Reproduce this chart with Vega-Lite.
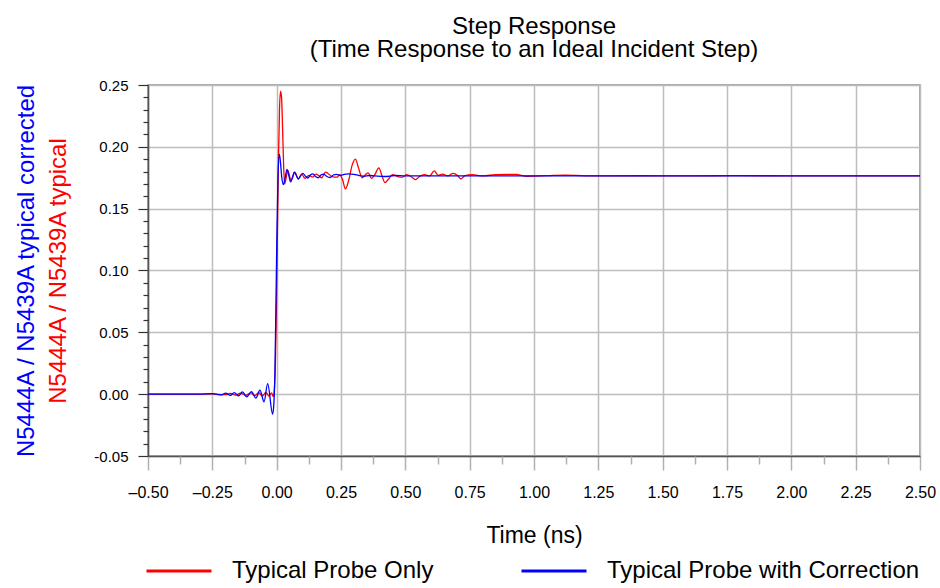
{
  "$schema": "https://vega.github.io/schema/vega-lite/v6.json",
  "width": 772,
  "height": 371,
  "autosize": {"type": "none"},
  "padding": {"left": 148, "top": 85, "right": 20, "bottom": 132},
  "background": "white",
  "title": {
    "text": ["Step Response", "(Time Response to an Ideal Incident Step)"],
    "fontSize": 24, "font": "Liberation Sans", "fontWeight": "normal", "color": "black",
    "lineHeight": 23.5, "anchor": "middle", "frame": "group", "baseline": "alphabetic", "offset": 22, "dy": 25
  },
  "config": {
    "font": "Liberation Sans",
    "view": {"stroke": "#8c8c8c", "strokeWidth": 1.5},
    "axis": {
      "gridColor": "#bdbdbd", "gridWidth": 1.5, "domainColor": "#555555", "domainWidth": 1.5,
      "labelColor": "black", "titleColor": "black", "titleFontWeight": "normal"
    },
    "legend": {"padding": 0}
  },
  "datasets": {
    "series": [
      {"t": -0.5, "v": 0, "s": "Typical Probe Only"},
      {"t": -0.35, "v": 0, "s": "Typical Probe Only"},
      {"t": -0.25, "v": 0.0002, "s": "Typical Probe Only"},
      {"t": -0.2, "v": -0.0004, "s": "Typical Probe Only"},
      {"t": -0.18, "v": 0.0006, "s": "Typical Probe Only"},
      {"t": -0.16, "v": -0.0007, "s": "Typical Probe Only"},
      {"t": -0.14, "v": 0.0008, "s": "Typical Probe Only"},
      {"t": -0.12, "v": -0.0009, "s": "Typical Probe Only"},
      {"t": -0.1, "v": 0.001, "s": "Typical Probe Only"},
      {"t": -0.085, "v": -0.0012, "s": "Typical Probe Only"},
      {"t": -0.07, "v": 0.0013, "s": "Typical Probe Only"},
      {"t": -0.055, "v": -0.0014, "s": "Typical Probe Only"},
      {"t": -0.042, "v": 0.0015, "s": "Typical Probe Only"},
      {"t": -0.03, "v": -0.0015, "s": "Typical Probe Only"},
      {"t": -0.02, "v": 0.001, "s": "Typical Probe Only"},
      {"t": -0.013, "v": -0.002, "s": "Typical Probe Only"},
      {"t": -0.009, "v": 0.004, "s": "Typical Probe Only"},
      {"t": -0.005, "v": 0.025, "s": "Typical Probe Only"},
      {"t": -0.001, "v": 0.07, "s": "Typical Probe Only"},
      {"t": 0.003, "v": 0.13, "s": "Typical Probe Only"},
      {"t": 0.007, "v": 0.19, "s": "Typical Probe Only"},
      {"t": 0.011, "v": 0.23, "s": "Typical Probe Only"},
      {"t": 0.015, "v": 0.245, "s": "Typical Probe Only"},
      {"t": 0.019, "v": 0.24, "s": "Typical Probe Only"},
      {"t": 0.023, "v": 0.215, "s": "Typical Probe Only"},
      {"t": 0.027, "v": 0.185, "s": "Typical Probe Only"},
      {"t": 0.031, "v": 0.17, "s": "Typical Probe Only"},
      {"t": 0.036, "v": 0.174, "s": "Typical Probe Only"},
      {"t": 0.043, "v": 0.181, "s": "Typical Probe Only"},
      {"t": 0.056, "v": 0.173, "s": "Typical Probe Only"},
      {"t": 0.071, "v": 0.1795, "s": "Typical Probe Only"},
      {"t": 0.084, "v": 0.174, "s": "Typical Probe Only"},
      {"t": 0.097, "v": 0.178, "s": "Typical Probe Only"},
      {"t": 0.11, "v": 0.1745, "s": "Typical Probe Only"},
      {"t": 0.125, "v": 0.177, "s": "Typical Probe Only"},
      {"t": 0.14, "v": 0.1755, "s": "Typical Probe Only"},
      {"t": 0.152, "v": 0.178, "s": "Typical Probe Only"},
      {"t": 0.165, "v": 0.1765, "s": "Typical Probe Only"},
      {"t": 0.175, "v": 0.175, "s": "Typical Probe Only"},
      {"t": 0.19, "v": 0.1795, "s": "Typical Probe Only"},
      {"t": 0.215, "v": 0.176, "s": "Typical Probe Only"},
      {"t": 0.235, "v": 0.1755, "s": "Typical Probe Only"},
      {"t": 0.245, "v": 0.1775, "s": "Typical Probe Only"},
      {"t": 0.256, "v": 0.1735, "s": "Typical Probe Only"},
      {"t": 0.267, "v": 0.166, "s": "Typical Probe Only"},
      {"t": 0.28, "v": 0.173, "s": "Typical Probe Only"},
      {"t": 0.293, "v": 0.185, "s": "Typical Probe Only"},
      {"t": 0.306, "v": 0.19, "s": "Typical Probe Only"},
      {"t": 0.318, "v": 0.183, "s": "Typical Probe Only"},
      {"t": 0.332, "v": 0.175, "s": "Typical Probe Only"},
      {"t": 0.345, "v": 0.1775, "s": "Typical Probe Only"},
      {"t": 0.356, "v": 0.179, "s": "Typical Probe Only"},
      {"t": 0.368, "v": 0.1745, "s": "Typical Probe Only"},
      {"t": 0.38, "v": 0.177, "s": "Typical Probe Only"},
      {"t": 0.397, "v": 0.183, "s": "Typical Probe Only"},
      {"t": 0.41, "v": 0.176, "s": "Typical Probe Only"},
      {"t": 0.421, "v": 0.171, "s": "Typical Probe Only"},
      {"t": 0.435, "v": 0.174, "s": "Typical Probe Only"},
      {"t": 0.45, "v": 0.1775, "s": "Typical Probe Only"},
      {"t": 0.47, "v": 0.176, "s": "Typical Probe Only"},
      {"t": 0.49, "v": 0.1755, "s": "Typical Probe Only"},
      {"t": 0.505, "v": 0.1775, "s": "Typical Probe Only"},
      {"t": 0.525, "v": 0.1755, "s": "Typical Probe Only"},
      {"t": 0.54, "v": 0.1735, "s": "Typical Probe Only"},
      {"t": 0.555, "v": 0.176, "s": "Typical Probe Only"},
      {"t": 0.575, "v": 0.1775, "s": "Typical Probe Only"},
      {"t": 0.595, "v": 0.1765, "s": "Typical Probe Only"},
      {"t": 0.612, "v": 0.1805, "s": "Typical Probe Only"},
      {"t": 0.628, "v": 0.177, "s": "Typical Probe Only"},
      {"t": 0.645, "v": 0.178, "s": "Typical Probe Only"},
      {"t": 0.665, "v": 0.1765, "s": "Typical Probe Only"},
      {"t": 0.685, "v": 0.1785, "s": "Typical Probe Only"},
      {"t": 0.703, "v": 0.1768, "s": "Typical Probe Only"},
      {"t": 0.716, "v": 0.174, "s": "Typical Probe Only"},
      {"t": 0.73, "v": 0.1765, "s": "Typical Probe Only"},
      {"t": 0.76, "v": 0.1775, "s": "Typical Probe Only"},
      {"t": 0.8, "v": 0.1765, "s": "Typical Probe Only"},
      {"t": 0.85, "v": 0.1775, "s": "Typical Probe Only"},
      {"t": 0.9, "v": 0.1778, "s": "Typical Probe Only"},
      {"t": 0.93, "v": 0.1778, "s": "Typical Probe Only"},
      {"t": 0.97, "v": 0.1762, "s": "Typical Probe Only"},
      {"t": 1.05, "v": 0.1767, "s": "Typical Probe Only"},
      {"t": 1.12, "v": 0.1772, "s": "Typical Probe Only"},
      {"t": 1.2, "v": 0.1765, "s": "Typical Probe Only"},
      {"t": 1.4, "v": 0.1766, "s": "Typical Probe Only"},
      {"t": 1.6, "v": 0.1765, "s": "Typical Probe Only"},
      {"t": 1.8, "v": 0.1767, "s": "Typical Probe Only"},
      {"t": 2.0, "v": 0.1765, "s": "Typical Probe Only"},
      {"t": 2.5, "v": 0.1765, "s": "Typical Probe Only"},

      {"t": -0.5, "v": 0, "s": "Typical Probe with Correction"},
      {"t": -0.3, "v": 0, "s": "Typical Probe with Correction"},
      {"t": -0.25, "v": 0.0004, "s": "Typical Probe with Correction"},
      {"t": -0.215, "v": -0.0006, "s": "Typical Probe with Correction"},
      {"t": -0.198, "v": 0.0008, "s": "Typical Probe with Correction"},
      {"t": -0.18, "v": -0.001, "s": "Typical Probe with Correction"},
      {"t": -0.165, "v": 0.0013, "s": "Typical Probe with Correction"},
      {"t": -0.148, "v": -0.0014, "s": "Typical Probe with Correction"},
      {"t": -0.133, "v": 0.0019, "s": "Typical Probe with Correction"},
      {"t": -0.116, "v": -0.0022, "s": "Typical Probe with Correction"},
      {"t": -0.098, "v": 0.0021, "s": "Typical Probe with Correction"},
      {"t": -0.081, "v": -0.0032, "s": "Typical Probe with Correction"},
      {"t": -0.065, "v": 0.0032, "s": "Typical Probe with Correction"},
      {"t": -0.049, "v": -0.0062, "s": "Typical Probe with Correction"},
      {"t": -0.035, "v": 0.0086, "s": "Typical Probe with Correction"},
      {"t": -0.0156, "v": -0.0162, "s": "Typical Probe with Correction"},
      {"t": -0.011, "v": -0.008, "s": "Typical Probe with Correction"},
      {"t": -0.007, "v": 0.015, "s": "Typical Probe with Correction"},
      {"t": -0.003, "v": 0.07, "s": "Typical Probe with Correction"},
      {"t": 0.001, "v": 0.13, "s": "Typical Probe with Correction"},
      {"t": 0.005, "v": 0.175, "s": "Typical Probe with Correction"},
      {"t": 0.0105, "v": 0.194, "s": "Typical Probe with Correction"},
      {"t": 0.015, "v": 0.187, "s": "Typical Probe with Correction"},
      {"t": 0.02, "v": 0.175, "s": "Typical Probe with Correction"},
      {"t": 0.026, "v": 0.1695, "s": "Typical Probe with Correction"},
      {"t": 0.033, "v": 0.175, "s": "Typical Probe with Correction"},
      {"t": 0.04, "v": 0.1817, "s": "Typical Probe with Correction"},
      {"t": 0.047, "v": 0.177, "s": "Typical Probe with Correction"},
      {"t": 0.054, "v": 0.1716, "s": "Typical Probe with Correction"},
      {"t": 0.061, "v": 0.175, "s": "Typical Probe with Correction"},
      {"t": 0.068, "v": 0.1795, "s": "Typical Probe with Correction"},
      {"t": 0.076, "v": 0.177, "s": "Typical Probe with Correction"},
      {"t": 0.084, "v": 0.174, "s": "Typical Probe with Correction"},
      {"t": 0.093, "v": 0.1765, "s": "Typical Probe with Correction"},
      {"t": 0.102, "v": 0.1785, "s": "Typical Probe with Correction"},
      {"t": 0.112, "v": 0.1762, "s": "Typical Probe with Correction"},
      {"t": 0.121, "v": 0.1748, "s": "Typical Probe with Correction"},
      {"t": 0.131, "v": 0.1772, "s": "Typical Probe with Correction"},
      {"t": 0.141, "v": 0.1782, "s": "Typical Probe with Correction"},
      {"t": 0.151, "v": 0.176, "s": "Typical Probe with Correction"},
      {"t": 0.161, "v": 0.175, "s": "Typical Probe with Correction"},
      {"t": 0.172, "v": 0.1772, "s": "Typical Probe with Correction"},
      {"t": 0.183, "v": 0.178, "s": "Typical Probe with Correction"},
      {"t": 0.195, "v": 0.176, "s": "Typical Probe with Correction"},
      {"t": 0.207, "v": 0.1752, "s": "Typical Probe with Correction"},
      {"t": 0.22, "v": 0.1772, "s": "Typical Probe with Correction"},
      {"t": 0.233, "v": 0.1778, "s": "Typical Probe with Correction"},
      {"t": 0.247, "v": 0.1768, "s": "Typical Probe with Correction"},
      {"t": 0.262, "v": 0.1778, "s": "Typical Probe with Correction"},
      {"t": 0.28, "v": 0.1782, "s": "Typical Probe with Correction"},
      {"t": 0.3, "v": 0.1778, "s": "Typical Probe with Correction"},
      {"t": 0.32, "v": 0.1768, "s": "Typical Probe with Correction"},
      {"t": 0.34, "v": 0.1762, "s": "Typical Probe with Correction"},
      {"t": 0.36, "v": 0.1768, "s": "Typical Probe with Correction"},
      {"t": 0.38, "v": 0.1765, "s": "Typical Probe with Correction"},
      {"t": 0.42, "v": 0.176, "s": "Typical Probe with Correction"},
      {"t": 0.46, "v": 0.1768, "s": "Typical Probe with Correction"},
      {"t": 0.5, "v": 0.1765, "s": "Typical Probe with Correction"},
      {"t": 0.6, "v": 0.1765, "s": "Typical Probe with Correction"},
      {"t": 0.8, "v": 0.1765, "s": "Typical Probe with Correction"},
      {"t": 1.0, "v": 0.1765, "s": "Typical Probe with Correction"},
      {"t": 1.5, "v": 0.1765, "s": "Typical Probe with Correction"},
      {"t": 2.0, "v": 0.1765, "s": "Typical Probe with Correction"},
      {"t": 2.5, "v": 0.1765, "s": "Typical Probe with Correction"}
    ]
  },
  "layer": [
    {
      "data": {"name": "series"},
      "mark": {"type": "line", "strokeWidth": 1.3, "interpolate": "monotone", "clip": true},
      "encoding": {
        "x": {
          "field": "t", "type": "quantitative",
          "scale": {"domain": [-0.5, 2.5], "nice": false, "zero": false},
          "axis": {
            "orient": "bottom",
            "values": [-0.5, -0.25, 0, 0.25, 0.5, 0.75, 1, 1.25, 1.5, 1.75, 2, 2.25, 2.5],
            "labelExpr": "(datum.value < 0 ? '–' : '') + format(abs(datum.value), '.2f')",
            "labelFont": "Liberation Sans", "labelFontSize": 16,
            "labelBaseline": "alphabetic", "labelPadding": 27, "labelFlush": false,
            "tickSize": 14, "tickColor": "#b0b0b0", "tickWidth": 1.5,
            "grid": true,
            "title": "Time (ns)", "titleFont": "Liberation Sans", "titleFontSize": 23,
            "titleBaseline": "alphabetic", "titleY": 86
          }
        },
        "y": {
          "field": "v", "type": "quantitative",
          "scale": {"domain": [-0.05, 0.25], "nice": false, "zero": false},
          "axis": {
            "orient": "left",
            "values": [-0.05, 0, 0.05, 0.1, 0.15, 0.2, 0.25],
            "labelExpr": "(datum.value < 0 ? '-' : '') + format(abs(datum.value), '.2f')",
            "labelFont": "Liberation Sans", "labelFontSize": 15, "labelPadding": 10,
            "labelBaseline": "middle", "labelFlush": false,
            "tickSize": 10, "tickColor": "#333333", "tickWidth": 1.2,
            "grid": true,
            "title": "N5444A / N5439A typical", "titleColor": "#ff0000",
            "titleFont": "Liberation Sans", "titleFontSize": 24,
            "titleBaseline": "alphabetic", "titleX": -83, "titleY": 185.5, "titleAngle": 270
          }
        },
        "color": {
          "field": "s", "type": "nominal",
          "scale": {"domain": ["Typical Probe Only", "Typical Probe with Correction"], "range": ["#ff0000", "#0000ff"]},
          "legend": {
            "title": null, "orient": "none", "direction": "horizontal",
            "legendX": -3, "legendY": 452,
            "symbolType": "stroke", "symbolSize": 4225, "symbolStrokeWidth": 3,
            "labelFont": "Liberation Sans", "labelFontSize": 24, "labelColor": "black",
            "labelOffset": 19, "labelLimit": 500, "columnPadding": 81
          }
        }
      }
    },
    {
      "data": {"values": [{"t": 0, "v": 0}]},
      "mark": {"type": "point", "opacity": 0},
      "encoding": {
        "x": {
          "field": "t", "type": "quantitative",
          "axis": {
            "orient": "bottom",
            "values": [-0.375, -0.125, 0.125, 0.375, 0.625, 0.875, 1.125, 1.375, 1.625, 1.875, 2.125, 2.375],
            "labels": false, "grid": false, "domain": false, "title": null,
            "tickSize": 8, "tickColor": "#b0b0b0", "tickWidth": 1.5
          }
        },
        "y": {
          "field": "v", "type": "quantitative",
          "axis": {
            "orient": "left",
            "values": [-0.04, -0.03, -0.02, -0.01, 0.01, 0.02, 0.03, 0.04, 0.06, 0.07, 0.08, 0.09, 0.11, 0.12, 0.13, 0.14, 0.16, 0.17, 0.18, 0.19, 0.21, 0.22, 0.23, 0.24],
            "labels": false, "grid": false, "domain": false,
            "tickSize": 5, "tickColor": "#333333", "tickWidth": 1.2,
            "title": "N5444A / N5439A typical corrected", "titleColor": "#0000ff",
            "titleFont": "Liberation Sans", "titleFontSize": 24,
            "titleBaseline": "alphabetic", "titleX": -115, "titleY": 185.5, "titleAngle": 270
          }
        }
      }
    }
  ],
  "resolve": {"axis": {"x": "independent", "y": "independent"}}
}
